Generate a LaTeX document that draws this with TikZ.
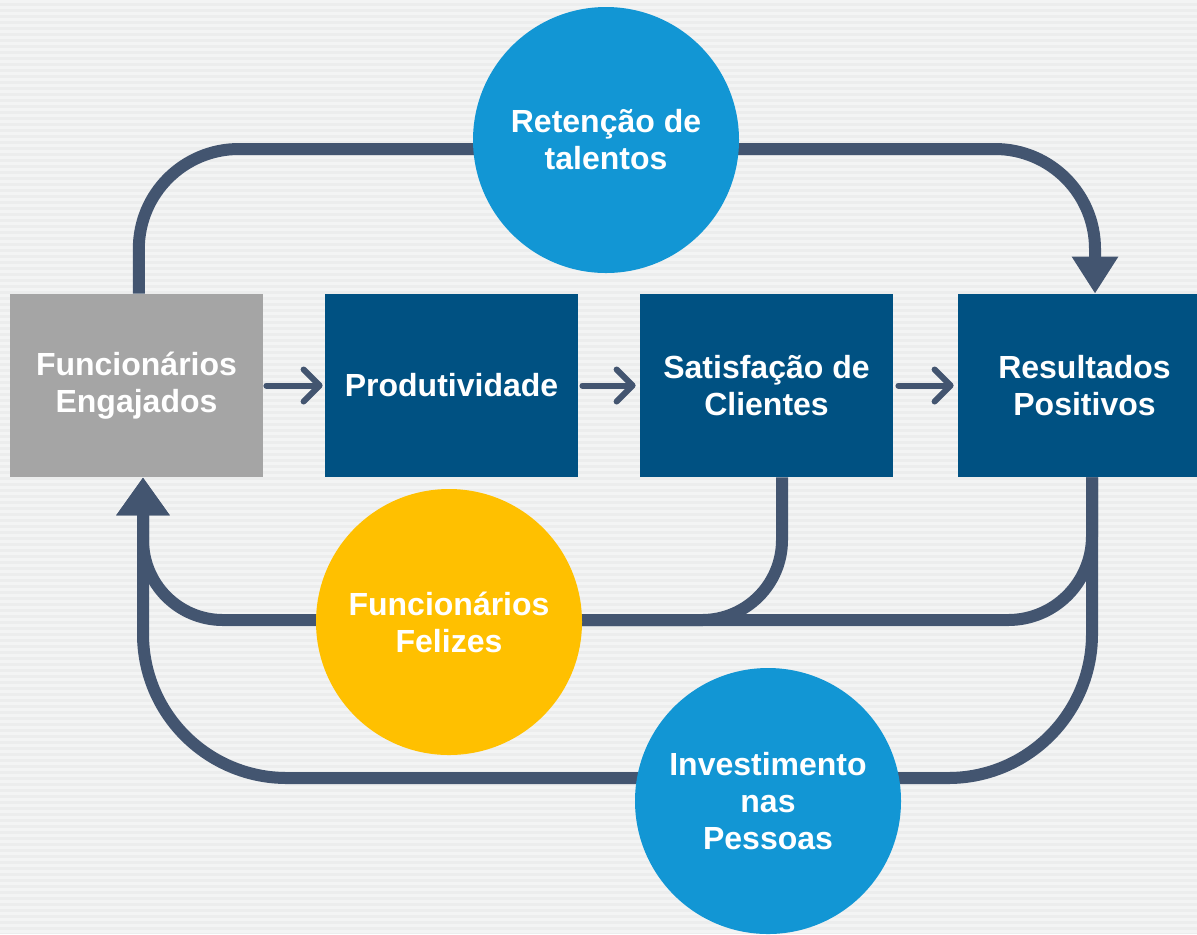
\documentclass[tikz,border=0pt]{standalone}
\usepackage{fontspec}
\setmainfont{Liberation Sans}
\usetikzlibrary{arrows.meta,backgrounds}
\definecolor{loopgray}{HTML}{435570}
\definecolor{boxblue}{HTML}{005182}
\definecolor{boxgray}{HTML}{A5A5A5}
\definecolor{bubbleblue}{HTML}{1296D4}
\definecolor{bubbleyellow}{HTML}{FFC000}
\definecolor{paper}{HTML}{ECEDED}
\definecolor{paperline}{HTML}{F3F4F4}

\begin{document}
\begin{tikzpicture}[x=0.5pt,y=-0.5pt,
    label font/.style={font=\bfseries\fontsize{16}{18.5}\selectfont},
    box/.style={rectangle, minimum width=126.5pt, minimum height=91.5pt, inner sep=0pt, text=white, align=center, label font},
    bubble/.style={circle, minimum size=133pt, inner sep=0pt, text=white, align=center, label font},
    loop/.style={draw=loopgray, line width=6pt},
    flow/.style={draw=loopgray, line width=3pt, line cap=round, -{Straight Barb[length=8pt,width=16pt,round]}}]
    \useasboundingbox (0,0) rectangle (1197,934);
    \clip (0,0) rectangle (1197,934);

    % Paper with thin stripes
    \begin{scope}[on background layer]
        \fill[paper] (0,0) rectangle (1197,934);
        \foreach \y in {0,6,...,930} \fill[paperline] (0,\y) rectangle (1197,\y+2.5);
    \end{scope}

    % Chain of boxes
    \node[box, fill=boxgray] (engaj) at (136.5,385.5) {Funcion\'arios\\Engajados};
    \node[box, fill=boxblue] (produt) at (451.5,385.5) {Produtividade};
    \node[box, fill=boxblue] (satisf) at (766.5,385.5) {Satisfa\c{c}\~ao de\\Clientes};
    \node[box, fill=boxblue] (result) at (1084.5,385.5) {Resultados\\Positivos};
    \draw[flow, shorten <=1.5pt, shorten >=1pt] (engaj) -- (produt);
    \draw[flow, shorten <=2pt, shorten >=2pt] (produt) -- (satisf);
    \draw[flow, shorten <=2.5pt, shorten >=2pt] (satisf) -- (result);

    % Circles on the loops
    \node[bubble, fill=bubbleblue] (retenc) at (606,140) {Reten\c{c}\~ao de\\talentos};
    \node[bubble, fill=bubbleyellow] (felizes) at (449,622) {Funcion\'arios\\Felizes};
    \node[bubble, fill=bubbleblue] (invest) at (768,801) {Investimento\\nas\\Pessoas};

    % Loops behind circles and boxes
    \coordinate (toprail) at (606,149);
    \coordinate (midrail) at (449,620);
    \coordinate (lowrail) at (768,778);
    \begin{scope}[on background layer]
        \draw[loop, rounded corners=50pt, -{Triangle[length=18.5pt,width=22pt]}]
            ([xshift=1.15pt]engaj.north) |- (toprail) -| ([xshift=5.25pt]result.north);
        \draw[loop, rounded corners=40pt, -{Triangle[length=19pt,width=25.5pt]}]
            ([xshift=7.75pt]satisf.south) |- (midrail) -| ([xshift=3.25pt]engaj.south);
        \draw[loop, rounded corners=42pt] ([xshift=3.75pt]result.south) |- (midrail);
        \draw[loop, rounded corners=72pt, -{Triangle[length=19pt,width=25.5pt]}]
            ([xshift=3.75pt]result.south) |- (lowrail) -| ([xshift=3.25pt]engaj.south);
    \end{scope}
\end{tikzpicture}
\end{document}
